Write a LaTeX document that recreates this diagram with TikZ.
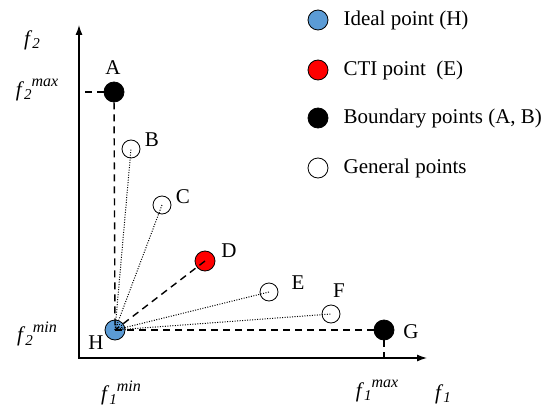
\documentclass[tikz,border=0pt]{standalone}
\usepackage{fontspec}
\setmainfont{Liberation Serif}
\usetikzlibrary{arrows.meta, positioning}
\definecolor{idealblue}{RGB}{91, 155, 213}
\definecolor{ctired}{RGB}{255, 0, 0}
% objective label: f with subscript and superscript
\newcommand{\objf}[2]{\textit{f}\raisebox{-0.35ex}{\fontsize{15}{15}\selectfont\textit{#1}}\raisebox{1.0ex}{\fontsize{16}{16}\selectfont\textit{#2}}}

\begin{document}
\begin{tikzpicture}[x=1pt, y=-1pt, font=\fontsize{21}{25}\selectfont,
        pt/.style={circle, draw, line width=0.8pt, inner sep=0pt, minimum size=20pt},
        idealpt/.style={pt, fill=idealblue},
        ctipt/.style={pt, fill=ctired},
        boundpt/.style={pt, fill=black},
        genpt/.style={pt, fill=white, minimum size=18pt},
        ptlabel/.style={inner sep=0pt},
        legtext/.style={inner sep=0pt, anchor=west},
        axis/.style={line width=1.2pt, {Latex[length=10pt,width=7pt]}-{Latex[length=10pt,width=7pt]}},
        bound/.style={line width=1.4pt, dash pattern=on 7pt off 5pt},
        ray/.style={line width=1pt, dash pattern=on 1pt off 1.5pt}]

        \useasboundingbox (0,0) rectangle (556,409);

        % Axes
        \coordinate (O) at (79,358);
        \coordinate (ytop) at (79,25);
        \coordinate (xend) at (427,358);
        \draw [axis] (ytop) -- (O) -- (xend);

        % Axis labels
        \node [ptlabel] (f2) at (32,40) {\objf{2}{}};
        \node [ptlabel] (f2max) at (37,90) {\objf{2}{max}};
        \node [ptlabel] (f2min) at (37,334) {\objf{2}{min}};
        \node [ptlabel] (f1min) at (121,393) {\objf{1}{min}};
        \node [ptlabel] (f1max) at (377,391) {\objf{1}{max}};
        \node [ptlabel] (f1) at (443,394) {\objf{1}{}};

        % Points
        \node [idealpt] (H) at (115,330) {};
        \node [boundpt] (A) at (114,92) {};
        \node [genpt] (B) at (131,149) {};
        \node [genpt] (C) at (162,205) {};
        \node [ctipt] (D) at (205,261) {};
        \node [genpt] (E) at (269,292) {};
        \node [genpt] (F) at (331,314) {};
        \node [boundpt] (G) at (384,330) {};

        % Point labels
        \node [ptlabel] at (113,68) {A};
        \node [ptlabel] at (152,140) {B};
        \node [ptlabel] at (183,197) {C};
        \node [ptlabel] at (229,251) {D};
        \node [ptlabel] at (298,283) {E};
        \node [ptlabel] at (339,291) {F};
        \node [ptlabel] at (411,332) {G};
        \node [ptlabel] at (96,343) {H};

        % Boundary lines
        \draw [bound] (A) -- (H.center);
        \draw [bound] (H.center) -- (G);
        \draw [bound] (D.center) -- (H.center);
        \draw [bound] (A.west) -- (A.west -| O);
        \draw [bound] (G.south) -- (G.south |- O);

        % Rays to general points
        \draw [ray] (H.center) -- (B.center);
        \draw [ray] (H.center) -- (C.center);
        \draw [ray] (H.center) -- (E.center);
        \draw [ray] (H.center) -- (F.center);
        \draw [ray] (H.center) rectangle +(6,-6);

        % Legend
        \node [idealpt] (legH) at (318,20) {};
        \node [ctipt] (legD) at (318,70) {};
        \node [boundpt] (legA) at (318,118) {};
        \node [genpt, minimum size=20pt] (legB) at (318,168) {};
        \node [legtext, right=15pt of legH.east] {Ideal point (H)};
        \node [legtext, right=15pt of legD.east] {CTI point\ \ (E)};
        \node [legtext, right=15pt of legA.east] {Boundary points (A, B)};
        \node [legtext, right=15pt of legB.east] {General points};
    \end{tikzpicture}
\end{document}
